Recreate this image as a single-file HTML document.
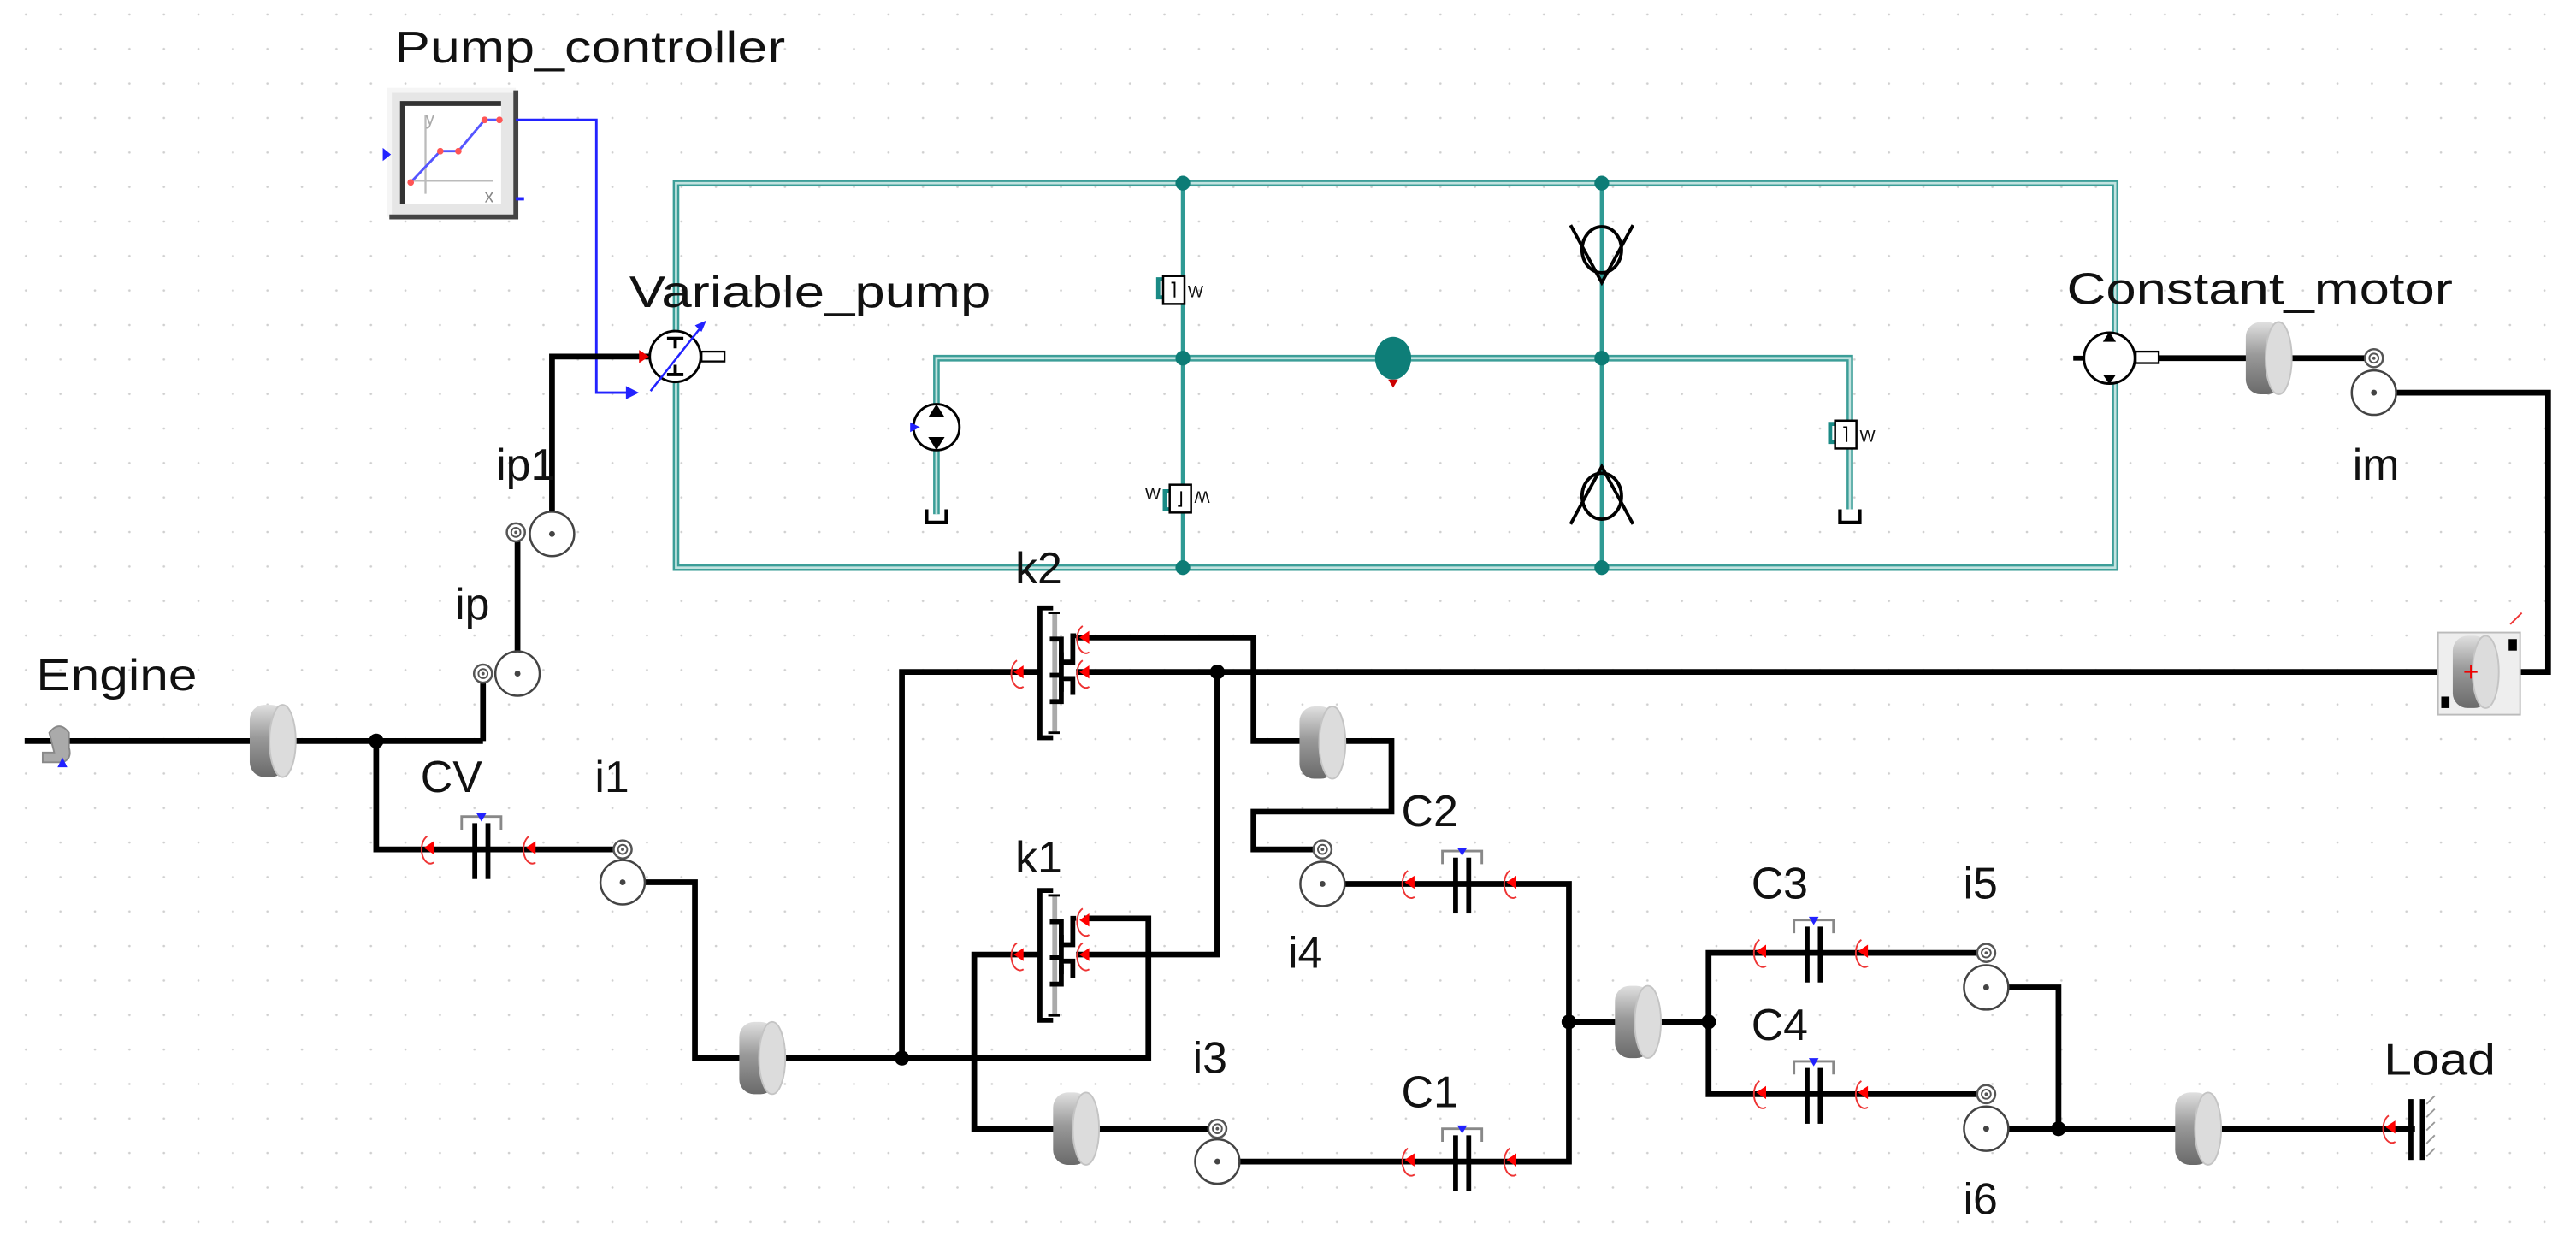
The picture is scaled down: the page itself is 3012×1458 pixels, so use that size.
<!DOCTYPE html>
<html><head><meta charset="utf-8"><style>
html,body{margin:0;padding:0;background:#fff;}
svg{display:block;}
text{font-family:"Liberation Sans",sans-serif;font-size:27px;fill:#111;}
</style></head><body>
<svg width="3012" height="1458" viewBox="0 0 1568 759" xmlns="http://www.w3.org/2000/svg">
<defs>
<pattern id="grid" x="15" y="8" width="21" height="21" patternUnits="userSpaceOnUse">
<circle cx="0.8" cy="0.8" r="0.7" fill="#cfcfcf"/></pattern>
<linearGradient id="gd" x1="0" y1="0" x2="0" y2="1">
<stop offset="0" stop-color="#e0e0e0"/><stop offset="0.45" stop-color="#9a9a9a"/><stop offset="1" stop-color="#6a6a6a"/></linearGradient>
<g id="inertia">
<rect x="-14" y="-22" width="22" height="44" rx="9" fill="url(#gd)"/>
<ellipse cx="6" cy="0" rx="8" ry="22" fill="#dcdcdc" stroke="#c4c4c4" stroke-width="1"/>
</g>
<g id="rarr">
<path d="M-2,-8 A5,8 0 1 0 2,8" fill="none" stroke="#e33" stroke-width="1"/>
<path d="M-4,-1 L2,-5 L2,3 Z" fill="#f00"/>
</g>
<g id="clutch">
<path d="M-12,-12 V-20 H12 V-12" fill="none" stroke="#888" stroke-width="1.5"/>
<path d="M-3,-22 L3,-22 L0,-17 Z" fill="#22f"/>
<rect x="-5.5" y="-16" width="3" height="34" fill="#000"/>
<rect x="2.5" y="-16" width="3" height="34" fill="#000"/>
<use href="#rarr" x="-31" y="0"/><use href="#rarr" x="31" y="0"/>
</g>
<g id="kcl">
<path d="M8,-39 H0 V40 H8" fill="none" stroke="#000" stroke-width="3"/>
<line x1="9" y1="-36" x2="9" y2="37" stroke="#aaa" stroke-width="3"/>
<path d="M5,-36 H12 M5,37 H12" stroke="#000" stroke-width="1.5"/>
<path d="M6,-20 H13 V-6 H20 V-22 H22" fill="none" stroke="#000" stroke-width="3"/>
<path d="M6,2 H13 M13,-12 V12 M13,4 H20 V14" fill="none" stroke="#000" stroke-width="3"/>
<path d="M6,18 H13 V6" fill="none" stroke="#000" stroke-width="3"/>
<use href="#rarr" x="-12" y="1"/><use href="#rarr" x="28" y="-20"/><use href="#rarr" x="28" y="1"/>
</g>
<g id="gsm"><circle r="5.5" fill="#fff" stroke="#555" stroke-width="1.3"/><circle r="2.8" fill="none" stroke="#555" stroke-width="1"/><circle r="1" fill="#555"/></g>
<g id="gbg"><circle r="13.5" fill="#fff" stroke="#444" stroke-width="1.3"/><circle r="1.8" fill="#444"/></g>
<g id="relief">
<path d="M-3,-8 H-9 V3 H-6" fill="none" stroke="#1a8a85" stroke-width="2.5"/>
<rect x="-6" y="-10" width="13" height="17" fill="#fff" stroke="#000" stroke-width="1.3"/>
<path d="M-1,-6 H1 V3" fill="none" stroke="#000" stroke-width="1"/>
<text x="9" y="3" style="font-size:10px">W</text>
</g>
<g id="tank"><path d="M-6,-4 V4 H6 V-4" fill="none" stroke="#000" stroke-width="2.2"/></g>
</defs>
<rect width="1568" height="759" fill="#fff"/>
<rect width="1568" height="759" fill="url(#grid)"/>

<!-- hydraulic -->
<g fill="none">
<rect x="411.5" y="111.5" width="876" height="234" stroke="#3c9e98" stroke-width="4"/>
<rect x="411.5" y="111.5" width="876" height="234" stroke="#c3e3e0" stroke-width="1.4"/>
<path d="M570,313 V218 H1126 V310" stroke="#3c9e98" stroke-width="4"/>
<path d="M570,313 V218 H1126 V310" stroke="#c3e3e0" stroke-width="1.4"/>
<line x1="720" y1="111" x2="720" y2="346" stroke="#2f9a94" stroke-width="2.4"/>
<line x1="975" y1="111" x2="975" y2="346" stroke="#2f9a94" stroke-width="2.4"/>
</g>
<g fill="#0d7c76">
<circle cx="720" cy="111.5" r="4.5"/><circle cx="720" cy="218" r="4.5"/><circle cx="720" cy="345.5" r="4.5"/>
<circle cx="975" cy="111.5" r="4.5"/><circle cx="975" cy="218" r="4.5"/><circle cx="975" cy="345.5" r="4.5"/>
</g>
<use href="#relief" x="714" y="178"/>
<g transform="translate(718,302) scale(1,-1)"><use href="#relief"/></g>
<text x="697" y="304" style="font-size:10px">W</text>
<use href="#relief" x="1123" y="266"/>
<use href="#tank" x="570" y="314"/>
<use href="#tank" x="1126" y="314"/>
<!-- small pump -->
<circle cx="570" cy="260" r="14" fill="#fff" stroke="#000" stroke-width="1.5"/>
<path d="M565,254 L575,254 L570,246 Z M565,266 L575,266 L570,274 Z" fill="#000"/>
<path d="M554,257 L560,260 L554,263Z" fill="#22f"/>
<!-- accumulator -->
<ellipse cx="848" cy="218" rx="11" ry="13" fill="#0e7e78"/>
<path d="M845,231 L851,231 L848,236Z" fill="#c00"/>
<!-- check valves -->
<g fill="none" stroke="#000" stroke-width="2">
<ellipse cx="975" cy="152" rx="12" ry="14"/><path d="M956,137 L975,172 L994,137"/>
<ellipse cx="975" cy="302" rx="12" ry="14"/><path d="M956,319 L975,284 L994,319"/>
</g>

<!-- pump controller -->
<rect x="237" y="55" width="77" height="77" fill="#e6e6e6"/>
<path d="M237,132 V55 H314" fill="none" stroke="#f5f5f5" stroke-width="3"/>
<path d="M237,132 H314 V55" fill="none" stroke="#444" stroke-width="3"/>
<rect x="245" y="63" width="60" height="61" fill="#fff"/>
<path d="M245,124 V63 H305" fill="none" stroke="#333" stroke-width="3"/>
<path d="M259,70 V118 M252,110 H300" stroke="#bbb" stroke-width="1.2" fill="none"/>
<polyline points="258,111 276,92 287,92 303,73 312,73" fill="none" stroke="#55f" stroke-width="1.5" transform="translate(-8,0)"/>
<g fill="#f55"><circle cx="250" cy="111" r="2"/><circle cx="268" cy="92" r="2"/><circle cx="279" cy="92" r="2"/><circle cx="295" cy="73" r="2"/><circle cx="304" cy="73" r="2"/></g>
<text x="259" y="76" style="font-size:11px;fill:#aaa">y</text>
<text x="295" y="123" style="font-size:11px;fill:#888">x</text>
<path d="M233,90 L238,94 L233,98Z" fill="#22f"/>
<line x1="314" y1="121" x2="319" y2="121" stroke="#22f" stroke-width="2"/>
<polyline points="314,73 363,73 363,239 382,239" fill="none" stroke="#22f" stroke-width="1.5"/>
<path d="M381,235 L389,239 L381,243Z" fill="#22f"/>

<!-- variable pump -->
<polyline points="336,325 336,217 395,217" fill="none" stroke="#000" stroke-width="3.5"/>
<circle cx="411" cy="217" r="15.5" fill="#fff" stroke="#000" stroke-width="1.5"/>
<path d="M406,206 H416 M411,206 V212 M406,228 H416 M411,228 V222" stroke="#000" stroke-width="2"/>
<line x1="396" y1="238" x2="426" y2="200" stroke="#22f" stroke-width="1.3"/>
<path d="M423,198 L430,195 L427,202Z" fill="#22f"/>
<rect x="427" y="214" width="14" height="6" fill="#fff" stroke="#000" stroke-width="1.2"/>
<path d="M389,213 L395,217 L389,221Z" fill="#e00"/>
<!-- constant motor -->
<circle cx="1284" cy="218" r="15.5" fill="#fff" stroke="#000" stroke-width="1.5"/>
<path d="M1280,208 L1288,208 L1284,202Z M1280,228 L1288,228 L1284,234Z" fill="#000"/>
<path d="M1262,218 H1268" stroke="#000" stroke-width="3"/>
<rect x="1300" y="214" width="14" height="7" fill="#fff" stroke="#000" stroke-width="1.2"/>
<line x1="1314" y1="218" x2="1440" y2="218" stroke="#000" stroke-width="3.5"/>
<use href="#inertia" x="1381" y="218"/>
<use href="#gsm" x="1445" y="218"/>
<polyline points="1445,239 1551,239 1551,409 1530,409" fill="none" stroke="#000" stroke-width="3.5"/>
<use href="#gbg" x="1445" y="239"/>

<!-- mechanical lines -->
<g fill="none" stroke="#000" stroke-width="3.5">
<line x1="15" y1="451" x2="294" y2="451"/>
<polyline points="294,410 294,451"/>
<polyline points="315,324 315,410"/>
<polyline points="229,451 229,517 379,517"/>
<polyline points="379,537 423,537 423,644 699,644 699,559 660,559"/>
<polyline points="549,644 549,409 632,409"/>
<line x1="655" y1="409" x2="1490" y2="409"/>
<polyline points="655,388 763,388 763,451 847,451 847,494 763,494 763,517 800,517"/>
<polyline points="741,409 741,581 655,581"/>
<polyline points="632,581 593,581 593,687 741,687"/>
<polyline points="805,538 955,538 955,707 741,707"/>
<line x1="955" y1="622" x2="1040" y2="622"/>
<polyline points="1209,580 1040,580 1040,666 1209,666"/>
<polyline points="1209,601 1253,601 1253,687"/>
<line x1="1209" y1="687" x2="1470" y2="687"/>
</g>
<g fill="#000">
<circle cx="229" cy="451" r="4.5"/><circle cx="549" cy="644" r="4.5"/><circle cx="741" cy="409" r="4.5"/>
<circle cx="955" cy="622" r="4.5"/><circle cx="1040" cy="622" r="4.5"/><circle cx="1253" cy="687" r="4.5"/>
</g>

<!-- engine -->
<path d="M30,446 Q36,438 42,446 V455 Q44,462 38,464 H26 V458 H33 Z" fill="#aaa" stroke="#888" stroke-width="1"/>
<path d="M35,467 L38,461 L41,467Z" fill="#22f"/>

<!-- inertias -->
<use href="#inertia" x="166" y="451"/>
<use href="#inertia" x="464" y="644"/>
<use href="#inertia" x="805" y="452"/>
<use href="#inertia" x="655" y="687"/>
<use href="#inertia" x="997" y="622"/>
<use href="#inertia" x="1338" y="687"/>

<!-- gears -->
<use href="#gsm" x="314" y="324"/><use href="#gbg" x="336" y="325"/>
<use href="#gsm" x="294" y="410"/><use href="#gbg" x="315" y="410"/>
<use href="#gsm" x="379" y="517"/><use href="#gbg" x="379" y="537"/>
<use href="#gsm" x="805" y="517"/><use href="#gbg" x="805" y="538"/>
<use href="#gsm" x="741" y="687"/><use href="#gbg" x="741" y="707"/>
<use href="#gsm" x="1209" y="580"/><use href="#gbg" x="1209" y="601"/>
<use href="#gsm" x="1209" y="666"/><use href="#gbg" x="1209" y="687"/>

<!-- clutches -->
<use href="#clutch" x="293" y="517"/>
<use href="#clutch" x="890" y="538"/>
<use href="#clutch" x="890" y="707"/>
<use href="#clutch" x="1104" y="580"/>
<use href="#clutch" x="1104" y="666"/>
<use href="#kcl" x="633" y="409"/>
<use href="#kcl" x="633" y="581"/>

<!-- load -->
<rect x="1466" y="669" width="3" height="37" fill="#000"/><rect x="1473" y="669" width="3" height="37" fill="#000"/>
<path d="M1477,672 l5,-5 M1477,680 l5,-5 M1477,688 l5,-5 M1477,696 l5,-5 M1477,704 l5,-5" stroke="#999" stroke-width="1"/>
<use href="#rarr" x="1456" y="687"/>

<!-- right gear box -->
<rect x="1484" y="385" width="50" height="50" fill="#eee" stroke="#bbb" stroke-width="1"/>
<use href="#inertia" x="1507" y="409"/>
<path d="M1500,409 h8 M1504,405 v8" stroke="#e00" stroke-width="1"/>
<rect x="1527" y="389" width="5" height="7" fill="#000"/><rect x="1486" y="424" width="5" height="7" fill="#000"/>
<path d="M1528,380 L1535,373" stroke="#e33" stroke-width="1"/>

<!-- labels -->
<text x="240" y="38" textLength="238" lengthAdjust="spacingAndGlyphs">Pump_controller</text>
<text x="383" y="187" textLength="220" lengthAdjust="spacingAndGlyphs">Variable_pump</text>
<text x="1258" y="185" textLength="235" lengthAdjust="spacingAndGlyphs">Constant_motor</text>
<text x="1432" y="292">im</text>
<text x="302" y="292">ip1</text>
<text x="277" y="377">ip</text>
<text x="22" y="420" textLength="98" lengthAdjust="spacingAndGlyphs">Engine</text>
<text x="256" y="482">CV</text>
<text x="362" y="482">i1</text>
<text x="618" y="355">k2</text>
<text x="618" y="531">k1</text>
<text x="853" y="503">C2</text>
<text x="784" y="589">i4</text>
<text x="726" y="653">i3</text>
<text x="853" y="674">C1</text>
<text x="1066" y="547">C3</text>
<text x="1195" y="547">i5</text>
<text x="1066" y="633">C4</text>
<text x="1451" y="654" textLength="68" lengthAdjust="spacingAndGlyphs">Load</text>
<text x="1195" y="739">i6</text>
</svg>
</body></html>
